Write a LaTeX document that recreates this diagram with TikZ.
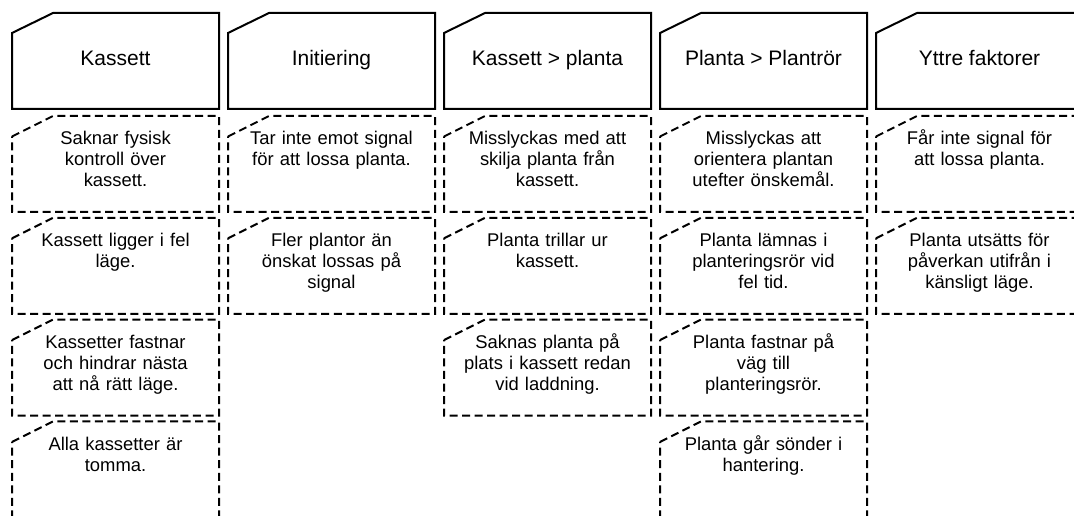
\documentclass[tikz,border=0pt]{standalone}
\usepackage{fontspec}
\setmainfont{Liberation Sans}
\usetikzlibrary{positioning}

\begin{document}
\begin{tikzpicture}[
		x=0.75pt, y=-0.75pt,
		rubrik/.style={draw, line width=1.5pt, line join=miter},
		kort/.style={draw, line width=1.5pt, dash pattern=on 6pt off 3.4pt},
		rubriktext/.style={anchor=base, inner sep=0pt, font=\fontsize{15.75}{18}\selectfont},
		korttext/.style={anchor=base, text width=150pt, align=center, inner sep=0pt, font=\fontsize{13.8}{15.6}\selectfont}
		]
		\clip (0,0) rectangle (1074,516);
		
		% Rubriker
		\foreach \i/\namn in {0/Kassett, 1/Initiering, 2/{Kassett > planta}, 3/{Planta > Plantrör}, 4/{Yttre faktorer}} {
			\draw[rubrik] (12+216*\i,33) -- (53+216*\i,13) -- (219+216*\i,13) -- (219+216*\i,109) -- (12+216*\i,109) -- cycle;
			\node[rubriktext] (h\i) at (115.5+216*\i,66) {\namn};
		}
		
		% Felorsaker (kolumn/rad/text)
		\foreach \i/\j/\txt in {
			0/0/{Saknar fysisk\\kontroll över\\kassett.},
			0/1/{Kassett ligger i fel\\läge.},
			0/2/{Kassetter fastnar\\och hindrar nästa\\att nå rätt läge.},
			0/3/{Alla kassetter är\\tomma.},
			1/0/{Tar inte emot signal\\för att lossa planta.},
			1/1/{Fler plantor än\\önskat lossas på\\signal},
			2/0/{Misslyckas med att\\skilja planta från\\kassett.},
			2/1/{Planta trillar ur\\kassett.},
			2/2/{Saknas planta på\\plats i kassett redan\\vid laddning.},
			3/0/{Misslyckas att\\orientera plantan\\utefter önskemål.},
			3/1/{Planta lämnas i\\planteringsrör vid\\fel tid.},
			3/2/{Planta fastnar på\\väg till\\planteringsrör.},
			3/3/{Planta går sönder i\\hantering.},
			4/0/{Får inte signal för\\att lossa planta.},
			4/1/{Planta utsätts för\\påverkan utifrån i\\känsligt läge.}} {
			\draw[kort] (12+216*\i,136.5+101.8*\j) -- (53+216*\i,116+101.8*\j) -- (219+216*\i,116+101.8*\j) -- (219+216*\i,212+101.8*\j) -- (12+216*\i,212+101.8*\j) -- cycle;
			\node[korttext] (f\i\j) at (115.5+216*\i,145+101.8*\j) {\txt};
		}
\end{tikzpicture}
\end{document}
